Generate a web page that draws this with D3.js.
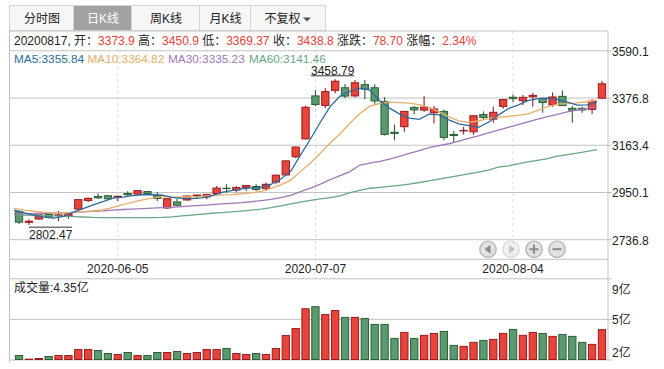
<!DOCTYPE html>
<html>
<head>
<meta charset="utf-8">
<script src="https://cdn.jsdelivr.net/npm/d3@7"></script>
<style>
  html, body { margin: 0; padding: 0; background: #fff; }
  svg { display: block; }
  text { font-family: "Liberation Sans", "Noto Sans CJK SC", sans-serif; font-size: 12px; fill: #222; }
</style>
</head>
<body>
<div id="container"></div>
<script>
//step1: data
let dates = ["2020-05-22","2020-05-25","2020-05-26","2020-05-27","2020-05-28","2020-05-29","2020-06-01","2020-06-02","2020-06-03","2020-06-04",
  "2020-06-05","2020-06-08","2020-06-09","2020-06-10","2020-06-11","2020-06-12","2020-06-15","2020-06-16","2020-06-17","2020-06-18",
  "2020-06-19","2020-06-22","2020-06-23","2020-06-24","2020-06-29","2020-06-30","2020-07-01","2020-07-02","2020-07-03","2020-07-06",
  "2020-07-07","2020-07-08","2020-07-09","2020-07-10","2020-07-13","2020-07-14","2020-07-15","2020-07-16","2020-07-17","2020-07-20",
  "2020-07-21","2020-07-22","2020-07-23","2020-07-24","2020-07-27","2020-07-28","2020-07-29","2020-07-30","2020-07-31","2020-08-03",
  "2020-08-04","2020-08-05","2020-08-06","2020-08-07","2020-08-10","2020-08-11","2020-08-12","2020-08-13","2020-08-14","2020-08-17"];
let opens = [2861,2813,2828,2849,2844,2841,2873,2912,2930,2933,2927,2943,2941,2952,2935,2878,2905,2914,2934,2928,
  2943,2967,2959,2971,2975,2965,2995,3027,3109,3190,3384,3341,3409,3421,3384,3435,3421,3358,3220,3245,
  3332,3320,3308,3314,3210,3226,3222,3300,3279,3337,3378,3362,3380,3373,3344,3382,3328,3328,3323,3373.9];
let closes = [2813.77,2817.97,2846.55,2836.8,2846.55,2852.35,2915.43,2921.4,2923.37,2919.25,2930.8,2937.77,2956.11,2943.75,2920.9,2919.74,2890.03,2931.75,2935.87,2939.32,
  2967.63,2965.27,2970.62,2979.55,2961.52,2984.67,3025.98,3090.57,3152.81,3332.88,3345.34,3403.44,3450.59,3383.32,3443.29,3414.62,3361.3,3210.1,3214.13,3314.15,
  3320.9,3333.16,3325.11,3196.77,3205.23,3227.96,3294.55,3286.82,3310.01,3367.97,3371.69,3377.56,3386.46,3354.04,3379.25,3340.29,3319.27,3320.73,3360.1,3438.8];
let highs = [2867,2827,2845,2853,2864,2860,2916,2925,2943,2936,2931,2953,2957,2955,2949,2920,2920,2934,2939,2941,
  2977,2985,2976,2982,2985,2993,3029,3092,3156,3340,3411,3419,3458.79,3438,3456,3456,3437,3378,3255,3315,
  3338,3383,3338,3323,3225,3245,3296,3314,3335,3368,3391,3388,3397,3376,3400,3409,3338,3335,3369,3450.9];
let lows = [2805,2802.47,2825,2832,2819,2828,2870,2905,2918,2917,2909,2933,2936,2938,2909,2873,2885,2911,2921,2917,
  2940,2946,2949,2955,2955,2955,2985,3024,3104,3187,3338,3328,3396,3373,3378,3369,3349,3205,3184,3222,
  3301,3312,3260,3184,3172,3210,3208,3278,3263,3326,3355,3343,3335,3308,3335,3338,3263,3308,3302,3369.37];
let volumes = [2.05,1.73,1.79,1.97,2.05,2.05,2.58,2.58,2.5,2.23,2.14,2.32,2.05,2.05,2.32,2.32,2.41,2.23,2.32,2.58,
  2.58,2.67,2.23,2.14,2.23,2.14,2.67,3.82,4.44,6.2,6.38,5.68,6.04,5.43,5.43,5.34,4.81,4.81,3.57,4.1,
  3.57,3.84,4.01,4.19,2.95,2.86,3.22,3.39,3.48,4.01,4.37,3.84,4.1,4.01,3.75,3.92,3.75,3.22,3.04,4.35];
let ma5 = [2867.89,2856.4,2845.99,2836.6,2832.33,2840.04,2859.54,2874.51,2891.82,2906.36,2922.05,2926.52,2933.46,2937.54,2937.87,2935.65,2926.11,2921.23,2919.66,2923.34,
  2932.92,2947.97,2955.74,2964.48,2968.92,2972.33,2984.47,3008.46,3043.11,3117.38,3189.52,3265.01,3337.01,3383.11,3405.2,3419.05,3410.62,3362.53,3328.69,3302.86,
  3284.12,3278.49,3301.49,3298.02,3276.23,3257.65,3249.92,3242.27,3264.91,3297.46,3326.21,3342.81,3362.74,3371.54,3373.8,3367.52,3355.86,3342.72,3343.93,3355.84];
let ma10 = [2876.26,2868.58,2864.08,2857.96,2855.58,2853.97,2857.97,2860.25,2864.21,2869.35,2881.05,2893.03,2903.99,2914.68,2922.12,2928.85,2926.32,2927.35,2928.6,2930.61,
  2934.29,2937.04,2938.49,2942.07,2946.13,2952.63,2966.22,2982.1,3003.8,3043.15,3080.93,3124.74,3172.74,3213.11,3261.29,3304.29,3337.82,3349.77,3355.9,3354.03,
  3351.59,3344.56,3332.01,3313.36,3289.55,3270.89,3264.21,3271.88,3281.47,3286.85,3291.93,3296.37,3302.51,3318.23,3335.63,3346.87,3349.34,3352.73,3357.74,3364.82];
let ma30 = [2849,2851,2853,2854,2855,2856,2858,2860,2863,2865,2868,2871,2873,2875,2877,2879,2881,2884,2887,2890,
  2893,2896,2899,2902,2906,2911,2917,2925,2935,2952,2968,2986,3006,3024,3042,3072,3080,3088,3099,3111,
  3124,3137,3150,3159,3168,3180,3192,3204,3217,3229,3242,3254,3267,3279,3290,3301,3312,3320,3328,3335.23];
let ma60 = [2848,2846,2845,2843,2842,2841,2839,2837,2835,2834,2834,2834,2834,2834,2834,2835,2838,2842,2846,2850,
  2854,2857,2860,2864,2868,2873,2879,2887,2896,2904,2912,2919,2925,2932,2947,2957,2967,2971,2975,2980,
  2986,2993,3000,3008,3016,3024,3032,3040,3049,3062,3068,3077,3086,3093,3101,3112,3119,3126,3134,3141.46];

let priceTicks = [3590.1,3376.8,3163.4,2950.1,2736.8];
let dateTicks = ["2020-06-05","2020-07-07","2020-08-04"];
let volTicks = [8.9,5.3,1.7];
let volTickLabels = ["9亿","5亿","2亿"];
let tabs = ["分时图","日K线","周K线","月K线","不复权"];
let infoParts = [["20200817, 开：","#222"],["3373.9","#e8403a"],[" 高：","#222"],["3450.9","#e8403a"],[" 低：","#222"],["3369.37","#e8403a"],[" 收：","#222"],["3438.8","#e8403a"],[" 涨跌：","#222"],["78.70","#e8403a"],[" 涨幅：","#222"],["2.34%","#e8403a"]];
let maLegend = [["MA5:3355.84","#2b6a9e"],["MA10:3364.82","#e8ad68"],["MA30:3335.23","#a077ba"],["MA60:3141.46","#68a688"]];

//step2: settings
let w = 664;
let h = 369;
let left = 9.5;
let right = 608;
let upColor = "#e8443a", upEdge = "#9c1a22";
let downColor = "#5b9a70", downEdge = "#2a6033";
let gridColor = "#c2c2c2";
let viz = d3.select("#container").append("svg").attr("width", w).attr("height", h);

//step3: scales
let xScale = d3.scaleBand().domain(dates).range([14.06, 606.9]);
let yScale = d3.scaleLinear().domain([2736.8, 3590.1]).range([239.2, 50.3]);
let volScale = d3.scaleLinear().domain([1.7, 8.9]).range([359.5, 278.3]);
let barWidth = xScale.bandwidth() - 2.6;
function center(d){ return xScale(d) + xScale.bandwidth()/2; }

//step4: tabs on top
let tabEdges = [10, 74, 132, 200, 251, 326];
let tabGroup = viz.append("g");
tabs.forEach(function(t, i){
  let selected = i == 1;
  tabGroup.append("rect")
    .attr("x", tabEdges[i] - 0.5).attr("y", 5.5)
    .attr("width", tabEdges[i+1] - tabEdges[i]).attr("height", 25)
    .attr("fill", selected ? "#a2a2a2" : "#f6f6f6")
    .attr("stroke", "#d4d4d4");
  tabGroup.append("text")
    .attr("x", (tabEdges[i] + tabEdges[i+1])/2 - (i == 4 ? 6 : 0)).attr("y", 22.5)
    .attr("text-anchor", "middle")
    .style("font-size", "12px")
    .style("fill", selected ? "#fff" : "#222")
    .text(t);
});
tabGroup.append("path").attr("d", "M303 17.5h8l-4 4z").attr("fill", "#555");

//step5: frame and grids
viz.append("g").selectAll("line").data(dateTicks).enter().append("line")
  .attr("x1", center).attr("x2", center).attr("y1", 31).attr("y2", 278)
  .attr("stroke", "#dedede").attr("stroke-dasharray", "3,3");

let priceGrid = viz.append("g").attr("transform", "translate(" + right + ",0)")
  .call(d3.axisRight(yScale).tickValues(priceTicks).tickSize(4).tickFormat(d3.format(".1f")));
priceGrid.select(".domain").remove();
priceGrid.selectAll("line").attr("stroke", gridColor).attr("x1", -(right - left)).attr("x2", 4);
priceGrid.selectAll("text").attr("x", 4).attr("dy", "0.4em").style("font-size", "12px");

let volGrid = viz.append("g").attr("transform", "translate(" + right + ",0)")
  .call(d3.axisRight(volScale).tickValues(volTicks).tickSize(4).tickFormat(function(d, i){ return volTickLabels[i]; }));
volGrid.select(".domain").remove();
volGrid.selectAll("line").attr("stroke", gridColor).attr("x1", -(right - left)).attr("x2", 4);
volGrid.selectAll("text").attr("x", 4).attr("dy", function(d, i){ return [15, 5, -3][i]; }).style("font-size", "12px");

viz.append("line").attr("x1", left).attr("x2", right).attr("y1", 31).attr("y2", 31).attr("stroke", gridColor);
viz.append("line").attr("x1", left).attr("x2", right).attr("y1", 259.3).attr("y2", 259.3).attr("stroke", gridColor);
viz.append("line").attr("x1", left).attr("x2", left).attr("y1", 31).attr("y2", 363).attr("stroke", gridColor);
viz.append("line").attr("x1", right).attr("x2", right).attr("y1", 31).attr("y2", 360).attr("stroke", gridColor);

let xAxisGroup = viz.append("g").attr("transform", "translate(0,259)")
  .call(d3.axisBottom(xScale).tickValues(dateTicks).tickSize(0));
xAxisGroup.select(".domain").remove();
xAxisGroup.selectAll("text").attr("y", 5).style("font-size", "12px");

//step6: info rows
let info = viz.append("text").attr("x", 14).attr("y", 45);
infoParts.forEach(function(p){
  info.append("tspan").style("fill", p[1]).text(p[0]);
});
let legendX = [14, 87.5, 168, 249];
maLegend.forEach(function(p, i){
  viz.append("text").attr("x", legendX[i]).attr("y", 63).style("fill", p[1]).style("font-size", "11.8px").text(p[0]);
});
viz.append("text").attr("x", 14).attr("y", 292).text("成交量:4.35亿");

//step7: candles
let candles = viz.append("g").selectAll(".datapoint").data(dates).enter().append("g").classed("datapoint", true);
function isUp(i){ return closes[i] >= opens[i]; }
candles.append("line")
  .attr("x1", center).attr("x2", center)
  .attr("y1", function(d, i){ return yScale(highs[i]); })
  .attr("y2", function(d, i){ return yScale(lows[i]); })
  .attr("stroke", function(d, i){ return isUp(i) ? upEdge : downEdge; })
  .attr("stroke-width", 1.1);
candles.append("rect")
  .attr("x", function(d){ return center(d) - barWidth/2; })
  .attr("width", barWidth)
  .attr("y", function(d, i){ return yScale(Math.max(opens[i], closes[i])); })
  .attr("height", function(d, i){ return Math.abs(yScale(opens[i]) - yScale(closes[i])); })
  .attr("fill", function(d, i){ return isUp(i) ? upColor : downColor; })
  .attr("stroke", function(d, i){ return isUp(i) ? upEdge : downEdge; })
  .attr("stroke-width", 1);

//step8: moving averages
let maLine = d3.line()
  .x(function(d, i){ return xScale(dates[i]); })
  .y(function(d){ return yScale(d); });
[[ma60, maLegend[3][1]], [ma30, maLegend[2][1]], [ma10, maLegend[1][1]], [ma5, maLegend[0][1]]].forEach(function(m){
  viz.append("path").attr("d", maLine(m[0])).attr("fill", "none").attr("stroke", m[1]).attr("stroke-width", 1.3);
});

//step9: high and low labels
viz.append("line").attr("x1", 311).attr("x2", 354).attr("y1", yScale(3458.79) - 3.6).attr("y2", yScale(3458.79) - 3.6).attr("stroke", "#333");
viz.append("text").attr("x", 311).attr("y", yScale(3458.79) - 4.8).text("3458.79");
viz.append("line").attr("x1", 29).attr("x2", 72).attr("y1", yScale(2802.47) + 2.5).attr("y2", yScale(2802.47) + 2.5).attr("stroke", "#333");
viz.append("text").attr("x", 29).attr("y", yScale(2802.47) + 14).text("2802.47");

//step10: volume
let volBars = viz.append("g").selectAll("rect").data(dates).enter().append("rect")
  .attr("x", function(d){ return center(d) - barWidth/2; })
  .attr("width", barWidth)
  .attr("y", function(d, i){ return volScale(volumes[i]); })
  .attr("height", function(d, i){ return volScale(1.7) - volScale(volumes[i]); })
  .attr("fill", function(d, i){ return isUp(i) ? upColor : downColor; })
  .attr("stroke", function(d, i){ return isUp(i) ? upEdge : downEdge; })
  .attr("stroke-width", 1);

//step11: navigation buttons
let navGlyphs = ["M490.5 244.8v9l-6-4.5z", "M509 244.8v9l6-4.5z", "M529.5 248.2h9v2h-9zM533 244.7h2v9h-2z", "M552.5 248.2h9v2h-9z"];
navGlyphs.forEach(function(g, i){
  let nav = viz.append("g").attr("opacity", i == 1 ? 0.5 : 1);
  nav.append("circle").attr("cx", 488 + i*23).attr("cy", 249.3).attr("r", 8.2)
    .attr("fill", "#e2e2e2").attr("stroke", "#b8b8b8").attr("stroke-width", 1.4);
  nav.append("path").attr("d", g).attr("fill", "#8a8a8a");
});
</script>
</body>
</html>
